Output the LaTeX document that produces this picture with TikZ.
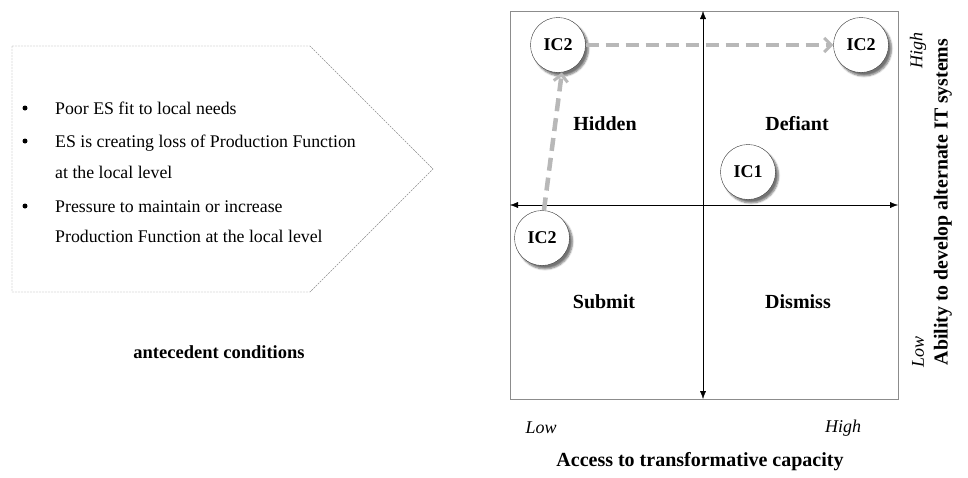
\documentclass[tikz,border=0pt]{standalone}
\usepackage{fontspec}
\setmainfont{Liberation Serif}
\usetikzlibrary{arrows.meta,shadows.blur}
\tikzset{
  bul/.style={anchor=base west,inner sep=0pt,font=\fontsize{17.8}{20}\selectfont},
  dot/.style={circle,fill=black,inner sep=0pt,minimum size=5pt},
  quad/.style={font=\bfseries\fontsize{20}{22}\selectfont,inner sep=0pt},
  ic/.style={circle,draw=black!80,thin,fill=white,minimum size=55pt,inner sep=0pt,
    font=\bfseries\fontsize{18}{20}\selectfont,
    blur shadow={shadow xshift=3pt,shadow yshift=-3.5pt,shadow blur steps=6,shadow opacity=55}},
  move/.style={draw=black!28,line width=4.5pt,dash pattern=on 13pt off 7pt,
    -{Straight Barb[length=7pt,width=14pt,line width=3pt]}},
  axis/.style={thin,black,{Latex[length=8pt,width=6pt]}-{Latex[length=8pt,width=6pt]}},
  lab/.style={inner sep=0pt,font=\fontsize{18}{20}\selectfont},
}
\begin{document}
\begin{tikzpicture}[x=1pt,y=-1pt]
\useasboundingbox (0,0) rectangle (968,477);
% antecedent pentagon
\draw[black!45,thin,dash pattern=on 2pt off 1pt] (12,46) -- (310,46) -- (433,169) -- (310,292) -- (12,292) -- cycle;
\foreach \yy/\t [count=\i] in {114/Poor ES fit to local needs,147/ES is creating loss of Production Function,178/at the local level,212/Pressure to maintain or increase,242/Production Function at the local level}{
  \node[bul] (t\i) at (55,\yy) {\t};
}
\foreach \yy [count=\i] in {108,141,206}{
  \node[dot] (b\i) at (25,\yy) {};
}
\node[inner sep=0pt,font=\bfseries\fontsize{18.5}{20}\selectfont] (ante) at (219,352) {antecedent conditions};
% matrix
\draw[black!45,thin] (510,11) rectangle (898,399);
\coordinate (xl) at (510,205);
\coordinate (xr) at (898,205);
\coordinate (yt) at (703,11);
\coordinate (yb) at (703,399);
\draw[axis] (xl) -- (xr);
\draw[axis] (yt) -- (yb);
\node[quad] (hid) at (605,124) {Hidden};
\node[quad] (def) at (797,124) {Defiant};
\node[quad] (sub) at (604,302) {Submit};
\node[quad] (dis) at (798,302) {Dismiss};
\node[ic] (tl) at (558,45) {IC2};
\node[ic] (tr) at (861,45) {IC2};
\node[ic] (ic1) at (748,172) {IC1};
\node[ic] (bl) at (542,238) {IC2};
\draw[move] (bl.86) -- (tl.-82);
\draw[move] (tl.east) -- (tr.west);
% axis labels
\node[lab,font=\itshape\fontsize{18}{20}\selectfont] (xlow) at (541,428) {Low};
\node[lab,font=\itshape\fontsize{18}{20}\selectfont] (xhigh) at (843,428) {High};
\node[lab,font=\bfseries\fontsize{20}{22}\selectfont] (xt) at (700,462) {Access to transformative capacity};
\node[lab,rotate=90,font=\itshape\fontsize{18}{20}\selectfont] (yhigh) at (918,50) {High};
\node[lab,rotate=90,font=\itshape\fontsize{18}{20}\selectfont] (ylow) at (918,352) {Low};
\node[lab,rotate=90,font=\bfseries\fontsize{19.8}{22}\selectfont] (yt2) at (943,202) {Ability to develop alternate IT systems};
\end{tikzpicture}
\end{document}
